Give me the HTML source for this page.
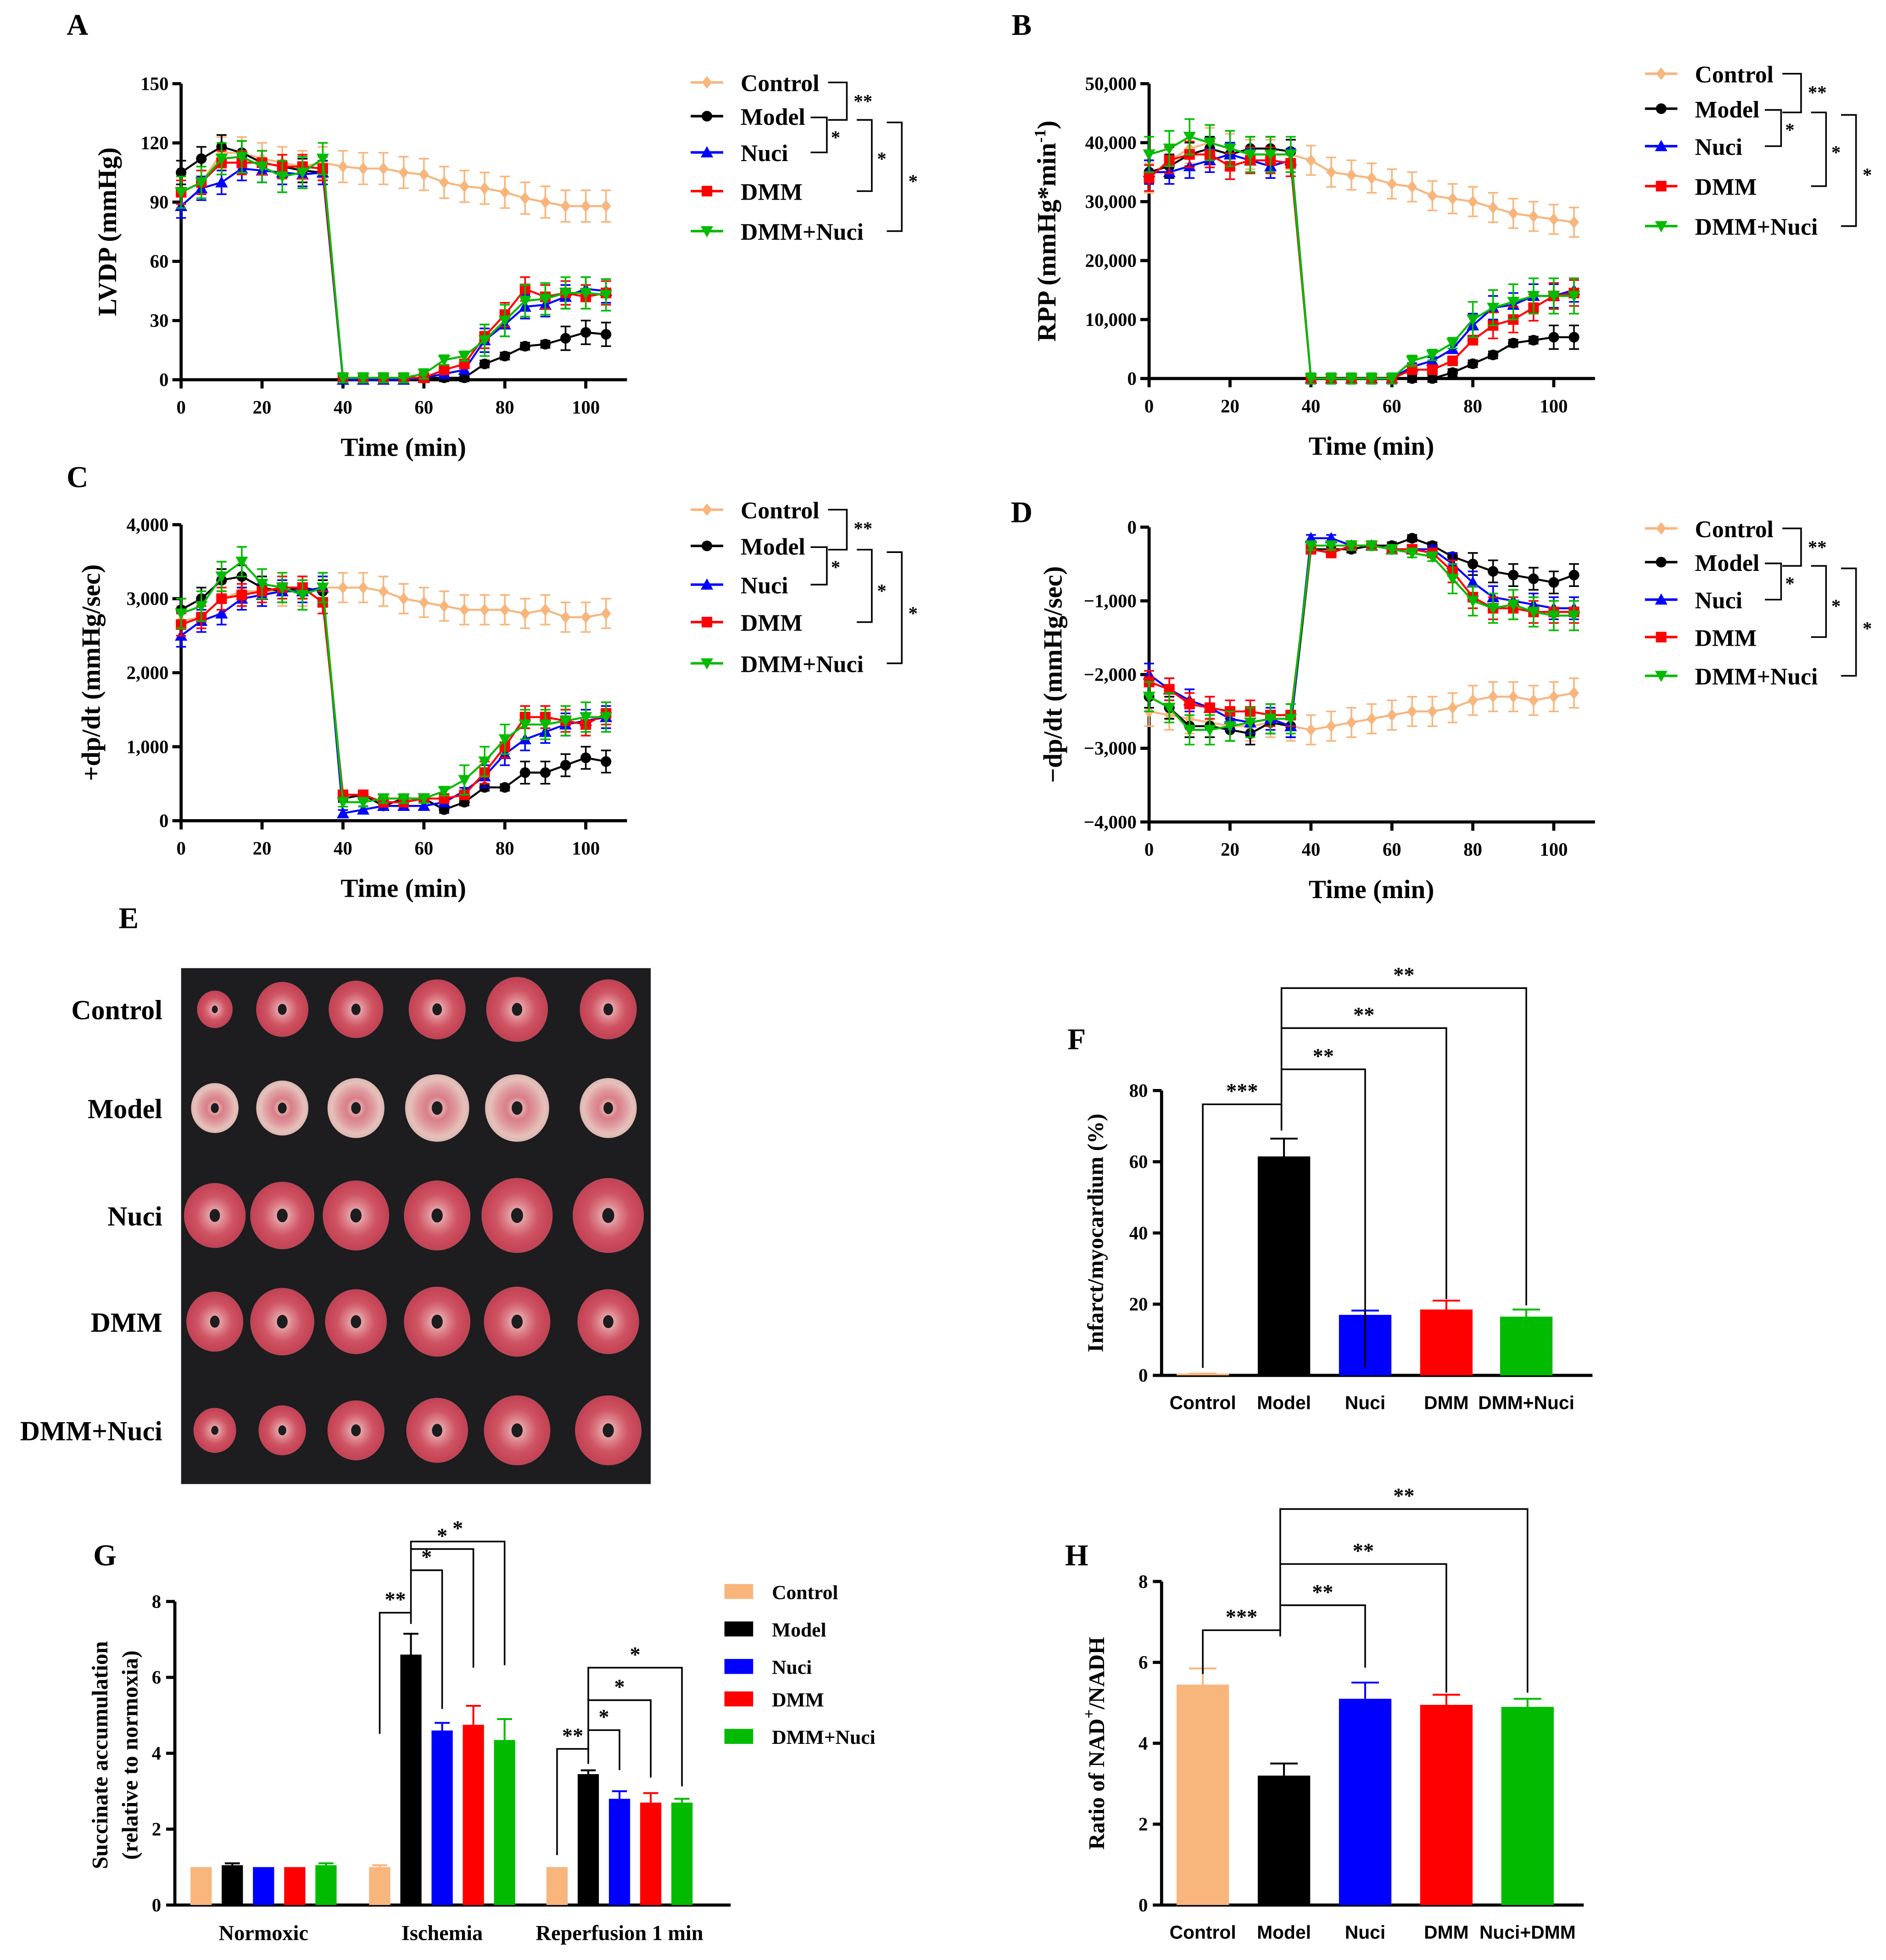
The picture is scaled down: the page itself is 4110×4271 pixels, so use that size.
<!DOCTYPE html>
<html><head><meta charset="utf-8"><style>
html,body{margin:0;padding:0;background:#fff}
svg{display:block}
text{font-family:"Liberation Serif",serif;font-weight:bold;fill:#000}
.s{font-family:"Liberation Sans",sans-serif}
</style></head><body>
<svg id="fig" width="4110" height="4271" viewBox="0 0 1510 1569" preserveAspectRatio="none" xmlns="http://www.w3.org/2000/svg">
<defs>
<radialGradient id="gRed"><stop offset="0" stop-color="#f0c8c8"/><stop offset="0.35" stop-color="#dc7f88"/><stop offset="0.6" stop-color="#cf5563"/><stop offset="0.9" stop-color="#c64456"/><stop offset="1" stop-color="#b84858"/></radialGradient>
<radialGradient id="gPale"><stop offset="0" stop-color="#f2d6d2"/><stop offset="0.35" stop-color="#d97f88"/><stop offset="0.6" stop-color="#df9aa0"/><stop offset="0.85" stop-color="#e6c0ba"/><stop offset="1" stop-color="#dcb8b2"/></radialGradient>
</defs>
<rect width="1510" height="1569" fill="#fff"/>
</svg>
<script>
// ---------- data ----------
const times=[0,5,10,15,20,25,30,35,40,45,50,55,60,65,70,75,80,85,90,95,100,105];
const seriesNames=["Control","Model","Nuci","DMM","DMM+Nuci"];
const lvdpControl=[95,100,115,115,112,110,108,110,108,107,107,105,104,100,98,97,95,92,90,88,88,88];
const lvdpModel=[105,112,118,115,110,108,106,105,1,1,1,1,1,1,1,8,12,17,18,21,24,23];
const lvdpNuci=[88,97,100,107,106,105,104,105,0,0,0,0,1,3,5,20,28,37,38,42,46,45];
const lvdpDMM=[95,100,110,110,110,108,108,107,1,1,1,1,1,5,8,22,33,46,42,44,42,44];
const lvdpDMMNuci=[95,100,112,113,108,103,105,112,1,1,1,1,3,10,12,20,30,40,41,44,44,43];
const rppControl=[34000,37000,39000,40000,39000,38000,38000,38000,37000,35000,34500,34000,33000,32500,31000,30500,30000,29000,28000,27500,27000,26500];
const rppModel=[35000,36000,38000,39000,38000,39000,39000,38500,0,0,0,0,0,0,0,1000,2500,4000,6000,6500,7000,7000];
const rppNuci=[35000,35000,36000,37000,38000,37000,36000,37000,0,0,0,0,0,2000,3000,5000,9000,12000,12500,14000,14000,15000];
const rppDMM=[34000,37000,38000,38000,36000,37000,37000,36500,0,0,0,0,0,1500,1500,3000,6500,9000,10000,12000,14000,14500];
const rppDMMNuci=[38000,39000,41000,40000,39000,38000,38000,38000,0,0,0,0,0,3000,4000,6000,10000,12000,13000,14000,14000,14000];
const pdpControl=[2700,2750,3000,3100,3100,3100,3100,3150,3150,3150,3100,3000,2950,2900,2850,2850,2850,2800,2850,2750,2750,2800];
const pdpModel=[2850,3000,3250,3300,3150,3100,3150,3100,300,350,200,300,300,150,250,450,450,650,650,750,850,800];
const pdpNuci=[2500,2700,2800,3000,3050,3100,3100,3150,100,150,200,200,200,250,400,600,900,1100,1200,1300,1350,1400];
const pdpDMM=[2650,2750,3000,3050,3100,3150,3150,2950,350,350,250,250,300,300,350,650,1000,1400,1400,1350,1300,1450];
const pdpDMMNuci=[2800,2900,3300,3500,3200,3150,3050,3150,250,250,300,300,300,400,550,800,1100,1300,1300,1350,1400,1400];
const ndpControl=[-2500,-2550,-2600,-2650,-2700,-2700,-2650,-2700,-2750,-2700,-2650,-2600,-2550,-2500,-2500,-2450,-2350,-2300,-2300,-2350,-2300,-2250];
const ndpModel=[-2300,-2450,-2700,-2700,-2750,-2800,-2650,-2700,-300,-300,-300,-250,-250,-150,-250,-400,-500,-600,-650,-700,-750,-650];
const ndpNuci=[-2000,-2200,-2350,-2450,-2600,-2650,-2600,-2700,-150,-150,-250,-250,-300,-300,-300,-500,-750,-950,-1000,-1050,-1100,-1100];
const ndpDMM=[-2100,-2200,-2400,-2450,-2500,-2500,-2550,-2550,-300,-350,-250,-250,-300,-300,-350,-600,-950,-1100,-1100,-1150,-1150,-1150];
const ndpDMMNuci=[-2300,-2450,-2750,-2750,-2700,-2650,-2600,-2600,-250,-250,-250,-250,-300,-350,-400,-700,-1000,-1100,-1050,-1150,-1200,-1200];
const lvdpErr=[8,6,6,6,8];
const rppErr=[2500,2000,2000,2200,3000];
const pdpErr=[200,150,150,150,200];
const ndpErr=[200,150,150,150,200];
const xTicks=[0,20,40,60,80,100];
const lvdpTicks=[0,30,60,90,120,150];
const rppTicks=[0,10000,20000,30000,40000,50000];
const rppTickLabels=["0","10,000","20,000","30,000","40,000","50,000"];
const pdpTicks=[0,1000,2000,3000,4000];
const pdpTickLabels=["0","1,000","2,000","3,000","4,000"];
const ndpTicks=[0,-1000,-2000,-3000,-4000];
const ndpTickLabels=["0","\u22121,000","\u22122,000","\u22123,000","\u22124,000"];
const infCats=["Control","Model","Nuci","DMM","DMM+Nuci"];
const infVals=[0.5,61.5,17,18.5,16.5];
const infErr=[0,5,1.2,2.5,2];
const infTicks=[0,20,40,60,80];
const sucGroups=["Normoxic","Ischemia","Reperfusion 1 min"];
const sucNormoxic=[1,1.05,1,1,1.05];
const sucIschemia=[1,6.6,4.6,4.75,4.35];
const sucReperfusion=[1,3.45,2.8,2.7,2.7];
const sucErrNormoxic=[0,0.05,0,0,0.05];
const sucErrIschemia=[0.05,0.55,0.2,0.5,0.55];
const sucErrReperfusion=[0,0.1,0.2,0.25,0.1];
const sucTicks=[0,2,4,6,8];
const nadCats=["Control","Model","Nuci","DMM","Nuci+DMM"];
const nadVals=[5.45,3.2,5.1,4.95,4.9];
const nadErr=[0.4,0.3,0.4,0.25,0.2];
const nadTicks=[0,2,4,6,8];

// ---------- helpers ----------
const NS="http://www.w3.org/2000/svg";
const svg=document.getElementById('fig');
const colors=["#f8b57c","#000000","#0000ff","#ff0000","#00bb00"];
function mk(tag,attrs,parent,txt){const e=document.createElementNS(NS,tag);for(const k in attrs)e.setAttribute(k,attrs[k]);if(txt!==undefined)e.textContent=txt;(parent||svg).appendChild(e);return e;}
function g(name){const e=mk('g',{});


return e;}
function marker(p,i,x,y,s){const c=colors[i];let e;
if(i===0)e=mk('polygon',{points:`${x},${y-s} ${x+s*0.8},${y} ${x},${y+s} ${x-s*0.8},${y}`,fill:c},p);
else if(i===1)e=mk('circle',{cx:x,cy:y,r:s*0.85,fill:c},p);
else if(i===2)e=mk('polygon',{points:`${x},${y-s} ${x+s},${y+s*0.8} ${x-s},${y+s*0.8}`,fill:c},p);
else if(i===3)e=mk('rect',{x:x-s*0.85,y:y-s*0.85,width:s*1.7,height:s*1.7,fill:c},p);
else e=mk('polygon',{points:`${x},${y+s} ${x+s},${y-s*0.8} ${x-s},${y-s*0.8}`,fill:c},p);
return e;}
function line(p,x1,y1,x2,y2,w,c){return mk('line',{x1,y1,x2,y2,stroke:c||'#000','stroke-width':w||2},p);}
function txt(p,x,y,s,size,anchor,extra){return mk('text',Object.assign({x,y,'font-size':size,'text-anchor':anchor||'middle'},extra||{}),p,s);}

// ---------- line charts ----------
function lineChart(cfg){
 const p=g(cfg.name);
 const xs=t=>cfg.xL+t*3.24;
 const ys=v=>cfg.yB-(v-cfg.yMin)/(cfg.yMax-cfg.yMin)*(cfg.yB-cfg.yT);
 const axisY=cfg.xAxisAt;
 line(p,cfg.xL,cfg.yT,cfg.xL,cfg.yB,2.5);
 line(p,cfg.xL,axisY,cfg.xL+357,axisY,2.5);
 cfg.yTicks.forEach((v,k)=>{line(p,cfg.xL-7,ys(v),cfg.xL,ys(v),2.5);
  txt(p,cfg.xL-10,ys(v)+5,cfg.yLabels[k],15,'end');});
 xTicks.forEach(t=>{line(p,xs(t),axisY,xs(t),axisY+7,2.5);txt(p,xs(t),axisY+27,String(t),15);});
 const xt=txt(p,cfg.xL+178,axisY+61,'Time (min)',21);
 
 const yt=txt(p,0,0,'',21,'middle',{transform:`translate(${cfg.yTitleX},${(cfg.yT+cfg.yB)/2}) rotate(-90)`});
 yt.innerHTML=cfg.yTitle;
 
 cfg.series.forEach((vals,i)=>{
  const sg=mk('g',{},p);
  
  
  const pts=vals.map((v,j)=>xs(times[j])+','+ys(v)).join(' ');
  mk('polyline',{points:pts,fill:'none',stroke:colors[i],'stroke-width':1.6},sg);
  vals.forEach((v,j)=>{const x=xs(times[j]),e=(Math.abs(v)<Math.abs(cfg.series[0][0])*0.2)?cfg.err[i]*0.3:cfg.err[i];
   const eh=e/(cfg.yMax-cfg.yMin)*(cfg.yB-cfg.yT);
   line(sg,x,ys(v)-eh,x,ys(v)+eh,1.3,colors[i]);
   line(sg,x-4,ys(v)-eh,x+4,ys(v)-eh,1.3,colors[i]);line(sg,x-4,ys(v)+eh,x+4,ys(v)+eh,1.3,colors[i]);
   const m=marker(sg,i,x,ys(v),5);
   
   
  });
 });
 const lg=mk('g',{},p);
 
 
 const L=cfg.leg;
 seriesNames.forEach((n,i)=>{const y=L.ys[i];
  line(lg,L.x-13,y,L.x+13,y,2,colors[i]);marker(lg,i,L.x,y,5);
  const t=txt(lg,L.x+27,y+7,n,19,'start');
  
  });
 const b=L.x,y=L.ys;
 mk('polyline',{points:`${b+97},${y[0]} ${b+112},${y[0]} ${b+112},${y[1]+3} ${b+97},${y[1]+3}`,fill:'none',stroke:'#000','stroke-width':1.3},lg);
 txt(lg,b+125,y[0]+20,'**',15);
 mk('polyline',{points:`${b+83},${y[1]+1} ${b+96},${y[1]+1} ${b+96},${y[2]} ${b+83},${y[2]}`,fill:'none',stroke:'#000','stroke-width':1.3},lg);
 txt(lg,b+103,y[1]+22,'*',15);
 mk('polyline',{points:`${b+120},${y[1]+3} ${b+132},${y[1]+3} ${b+132},${y[3]} ${b+120},${y[3]}`,fill:'none',stroke:'#000','stroke-width':1.3},lg);
 txt(lg,b+140,y[2]+10,'*',15);
 mk('polyline',{points:`${b+144},${y[1]+5} ${b+156},${y[1]+5} ${b+156},${y[4]} ${b+144},${y[4]}`,fill:'none',stroke:'#000','stroke-width':1.3},lg);
 txt(lg,b+165,y[2]+28,'*',15);
}
lineChart({name:'panel-a-lvdp-chart',xL:145,yB:304,yT:67,yMin:0,yMax:150,xAxisAt:304,yTicks:lvdpTicks,yLabels:lvdpTicks.map(String),
 series:[lvdpControl,lvdpModel,lvdpNuci,lvdpDMM,lvdpDMMNuci],err:lvdpErr,yTitle:'LVDP (mmHg)',yTitleX:93,leg:{x:566,ys:[66,93,122,153,185]}});
lineChart({name:'panel-b-rpp-chart',xL:920,yB:303,yT:67,yMin:0,yMax:50000,xAxisAt:303,yTicks:rppTicks,yLabels:rppTickLabels,
 series:[rppControl,rppModel,rppNuci,rppDMM,rppDMMNuci],err:rppErr,yTitle:'RPP (mmHg*min<tspan dy="-8" font-size="13">-1</tspan><tspan dy="8">)</tspan>',yTitleX:845,leg:{x:1330,ys:[59,87,117,149,181]}});
lineChart({name:'panel-c-plus-dpdt-chart',xL:145,yB:657,yT:420,yMin:0,yMax:4000,xAxisAt:657,yTicks:pdpTicks,yLabels:pdpTickLabels,
 series:[pdpControl,pdpModel,pdpNuci,pdpDMM,pdpDMMNuci],err:pdpErr,yTitle:'+dp/dt (mmHg/sec)',yTitleX:80,leg:{x:566,ys:[408,437,468,498,531]}});
lineChart({name:'panel-d-minus-dpdt-chart',xL:920,yB:658,yT:422,yMin:-4000,yMax:0,xAxisAt:658,yTicks:ndpTicks,yLabels:ndpTickLabels,
 series:[ndpControl,ndpModel,ndpNuci,ndpDMM,ndpDMMNuci],err:ndpErr,yTitle:'\u2212dp/dt (mmHg/sec)',yTitleX:850,leg:{x:1330,ys:[423,450,480,510,541]}});

// ---------- panel letters ----------
[['A',62,28],['B',818,28],['C',62,390],['D',818,418],['E',103,743],['F',862,840],['G',84,1253],['H',862,1253]].forEach(a=>{
 const t=txt(svg,a[1],a[2],a[0],24);
 
 });

// ---------- panel E photo ----------
(function(){const p=g('panel-e-heart-sections-photo');
 mk('rect',{x:145,y:775,width:376,height:413,fill:'#1d1c1f'},p);
 const rowNames=["Control","Model","Nuci","DMM","DMM+Nuci"];
 const rowY=[808,887,973,1058,1145];
 const colX=[172,226,285,350,414,487];
 const rad=[[15,22,23,24,26,24],[20,22,24,27,27,24],[26,27,28,28,30,30],[24,27,26,28,28,26],[18,20,24,26,28,28]];
 rowNames.forEach((n,r)=>{
  const t=txt(p,130,rowY[r]+8,n,22,'end',{'font-weight':'normal'});
  
  colX.forEach((x,c)=>{const R=rad[r][c];
   mk('ellipse',{cx:x,cy:rowY[r],rx:R*0.95,ry:R,fill:r===1?'url(#gPale)':'url(#gRed)'},p);
   mk('ellipse',{cx:x,cy:rowY[r],rx:R*0.16,ry:R*0.2,fill:'#1d1c1f'},p);});
 });})();

// ---------- bar charts ----------
function bracket(p,x1,yl,x2,yr,top,label){
 mk('polyline',{points:`${x1},${yl} ${x1},${top} ${x2},${top} ${x2},${yr}`,fill:'none',stroke:'#000','stroke-width':1.3},p);
 txt(p,(x1+x2)/2,top-5,label,17);}
function barChart(cfg){
 const p=g(cfg.name);
 const ys=v=>cfg.yB-v/cfg.yMax*(cfg.yB-cfg.yT);
 line(p,cfg.xL,cfg.yT,cfg.xL,cfg.yB,2.5);
 line(p,cfg.xL,cfg.yB,cfg.xR,cfg.yB,2.5);
 cfg.ticks.forEach(v=>{line(p,cfg.xL-7,ys(v),cfg.xL,ys(v),2.5);txt(p,cfg.xL-11,ys(v)+5,String(v),15,'end');});
 cfg.vals.forEach((v,i)=>{const x=cfg.xc[i];
  const r=mk('rect',{x:x-21,y:ys(v),width:42,height:cfg.yB-ys(v),fill:colors[i]},p);
  
  
  const e=cfg.err[i]/cfg.yMax*(cfg.yB-cfg.yT);
  line(p,x,ys(v),x,ys(v)-e,1.5,colors[i]);line(p,x-11,ys(v)-e,x+11,ys(v)-e,1.5,colors[i]);
  const t=mk('text',{x,y:cfg.yB+27,'font-size':15,'text-anchor':'middle',class:'s'},p,cfg.cats[i]);
  });
 const yt=txt(p,0,0,'',18,'middle',{transform:`translate(${cfg.yTitleX},${(cfg.yT+cfg.yB)/2}) rotate(-90)`});
 yt.innerHTML=cfg.yTitle;
 
 cfg.br.forEach(b=>bracket(p,...b));
}
barChart({name:'panel-f-infarct-chart',xL:930,xR:1275,yB:1101,yT:873,yMax:80,ticks:infTicks,vals:infVals,err:infErr,cats:infCats,
 xc:[963,1028,1093,1158,1222],yTitle:'Infarct/myocardium (%)',yTitleX:883,
 br:[[963,1095,1026,905,884,'***'],[1026,884,1093,1095,856,'**'],[1026,856,1158,1040,823,'**'],[1026,823,1222,1045,791,'**']]});
barChart({name:'panel-h-nad-ratio-chart',xL:930,xR:1268,yB:1525,yT:1266,yMax:8,ticks:nadTicks,vals:nadVals,err:nadErr,cats:nadCats,
 xc:[963,1028,1093,1158,1223],yTitle:'Ratio of NAD<tspan dy="-8" font-size="13">+</tspan><tspan dy="8">/NADH</tspan>',yTitleX:884,
 br:[[963,1340,1025,1310,1305,'***'],[1025,1305,1093,1335,1285,'**'],[1025,1285,1158,1355,1252,'**'],[1025,1252,1223,1355,1208,'**']]});

// ---------- panel G ----------
(function(){const p=g('panel-g-succinate-chart');
 const yB=1525,yT=1282,yMax=8,xL=140;
 const ys=v=>yB-v/yMax*(yB-yT);
 line(p,xL,yT,xL,yB,2.5);line(p,xL,yB,585,yB,2.5);
 sucTicks.forEach(v=>{line(p,xL-7,ys(v),xL,ys(v),2.5);txt(p,xL-11,ys(v)+5,String(v),15,'end');});
 const data=[sucNormoxic,sucIschemia,sucReperfusion],errs=[sucErrNormoxic,sucErrIschemia,sucErrReperfusion];
 const gx=[161,304,446];
 data.forEach((vals,gi)=>{
  vals.forEach((v,i)=>{const x=gx[gi]+i*25;
   const r=mk('rect',{x:x-8.5,y:ys(v),width:17,height:yB-ys(v),fill:colors[i]},p);
   
   
   const e=errs[gi][i]/yMax*(yB-yT);
   if(e>0){line(p,x,ys(v),x,ys(v)-e,1.5,colors[i]);line(p,x-6,ys(v)-e,x+6,ys(v)-e,1.5,colors[i]);}
  });
  const t=txt(p,gx[gi]+50,yB+28,sucGroups[gi],17);
  
 });
 const yt1=txt(p,0,0,'Succinate accumulation',18,'middle',{transform:`translate(86,1405) rotate(-90)`});
 
 const yt2=txt(p,0,0,'(relative to normoxia)',18,'middle',{transform:`translate(110,1405) rotate(-90)`});
 
 bracket(p,304,1388,329,1300,1291,'**');bracket(p,329,1291,354,1368,1257,'*');
 bracket(p,329,1257,379,1335,1240,'*');bracket(p,329,1240,404,1333,1234,'*');
 bracket(p,446,1485,471,1412,1400,'**');bracket(p,471,1400,496,1417,1385,'*');
 bracket(p,471,1385,521,1423,1361,'*');bracket(p,471,1361,546,1430,1335,'*');
 const lg=mk('g',{},p);
 
 
 [1274,1304,1334,1360,1390].forEach((y,i)=>{mk('rect',{x:580,y:y-6,width:23,height:12,fill:colors[i]},lg);
  const t=txt(lg,618,y+6,seriesNames[i],16,'start');
  });
})();
</script>
</body></html>
